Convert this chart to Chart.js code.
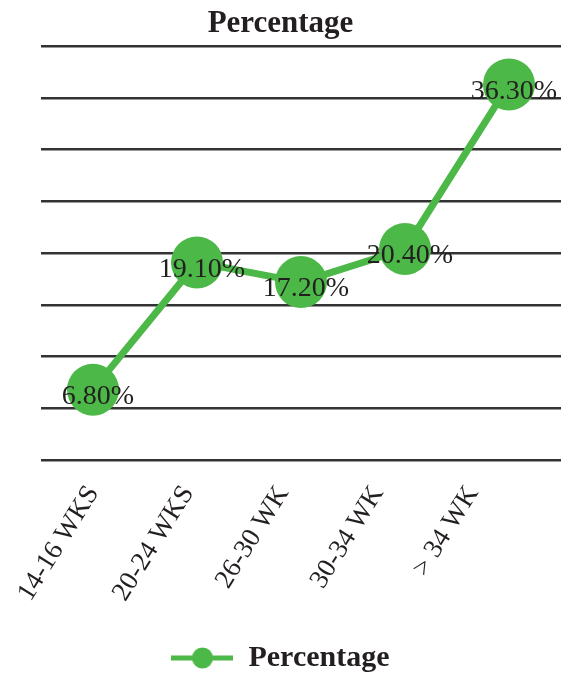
<!DOCTYPE html>
<html>
<head>
<meta charset="utf-8">
<script src="https://cdn.jsdelivr.net/npm/chart.js@4/dist/chart.umd.min.js"></script>
<style>
  html, body { margin: 0; padding: 0; background: #fff; }
  #wrap { width: 561px; height: 679px; }
</style>
</head>
<body>
<div id="wrap"><canvas id="c" width="561" height="679"></canvas></div>
<script>
// Gestational age groups and the share of cases in each
const categories = ['14-16 WKS', '20-24 WKS', '26-30 WK', '30-34 WK', '> 34 WK'];
const percentages = [6.8, 19.1, 17.2, 20.4, 36.3];
const seriesName = 'Percentage';
const yMin = 0, yMax = 40, yStep = 5;

const GREEN = '#4cb847';
const INK = '#231f20';
const SERIF = '"Liberation Serif", "DejaVu Serif", serif';

// Legend marker: a short line with a dot in the middle
const marker = document.createElement('canvas');
marker.width = 62; marker.height = 24;
(function () {
  const g = marker.getContext('2d');
  g.strokeStyle = GREEN; g.lineWidth = 5;
  g.beginPath(); g.moveTo(0, 12); g.lineTo(62, 12); g.stroke();
  g.fillStyle = GREEN;
  g.beginPath(); g.arc(31, 12, 10.5, 0, Math.PI * 2); g.fill();
})();

// Writes each value as a percentage on top of its point
const valueLabels = {
  id: 'valueLabels',
  afterDatasetsDraw(chart) {
    const ctx = chart.ctx;
    const meta = chart.getDatasetMeta(0);
    ctx.save();
    ctx.font = '28px ' + SERIF;
    ctx.fillStyle = INK;
    ctx.textAlign = 'center';
    ctx.textBaseline = 'middle';
    meta.data.forEach((pt, i) => {
      const v = chart.data.datasets[0].data[i];
      ctx.fillText(v.toFixed(2) + '%', pt.x + 5, pt.y + 7);
    });
    ctx.restore();
  }
};

new Chart(document.getElementById('c'), {
  type: 'line',
  data: {
    labels: categories,
    datasets: [{
      label: seriesName,
      data: percentages,
      xAxisID: 'x',
      borderColor: GREEN,
      backgroundColor: GREEN,
      borderWidth: 7,
      pointRadius: 26,
      pointHoverRadius: 26,
      pointBorderWidth: 0,
      pointBackgroundColor: GREEN,
      pointStyle: 'circle',
      tension: 0,
      fill: false
    }]
  },
  options: {
    responsive: false,
    animation: false,
    devicePixelRatio: 1,
    layout: { autoPadding: false, padding: { top: 0, left: 0, right: 0, bottom: -4 } },
    plugins: {
      title: {
        display: true,
        text: seriesName,
        color: INK,
        font: { family: SERIF, size: 31, weight: 'bold' },
        padding: { top: 5, bottom: 4 }
      },
      legend: {
        display: true,
        position: 'bottom',
        labels: {
          usePointStyle: true,
          pointStyle: marker,
          pointStyleWidth: 62,
          color: INK,
          font: { family: SERIF, size: 30, weight: 'bold' },
          padding: 0
        }
      },
      tooltip: { enabled: false }
    },
    scales: {
      // category axis that places the points
      x: {
        offset: true,
        grid: { display: false },
        border: { display: false },
        ticks: { display: false },
        afterFit(scale) {
          scale.paddingLeft = 0;
          scale.paddingRight = 0;
          scale.height = 0;
        }
      },
      // axis that carries the slanted category names, set slightly tighter
      xNames: {
        type: 'linear',
        position: 'bottom',
        min: -0.55,
        max: 4.93,
        grid: { display: false },
        border: { display: false },
        afterBuildTicks(scale) {
          scale.ticks = scale.ticks.filter(t => Number.isInteger(t.value) && t.value >= 0 && t.value < categories.length);
        },
        ticks: {
          stepSize: 1,
          color: INK,
          font: { family: SERIF, size: 27 },
          minRotation: 58,
          maxRotation: 58,
          autoSkip: false,
          padding: 12,
          callback: (v) => categories[v]
        },
        afterFit(scale) {
          scale.paddingLeft = 0;
          scale.paddingRight = 0;
          scale.height = 183;
        }
      },
      y: {
        min: yMin,
        max: yMax,
        ticks: { display: false, stepSize: yStep },
        border: { display: false },
        grid: { color: '#333333', lineWidth: 2.5, drawTicks: false },
        afterFit(scale) {
          scale.width = 41;
        }
      }
    }
  },
  plugins: [valueLabels]
});
</script>
</body>
</html>
